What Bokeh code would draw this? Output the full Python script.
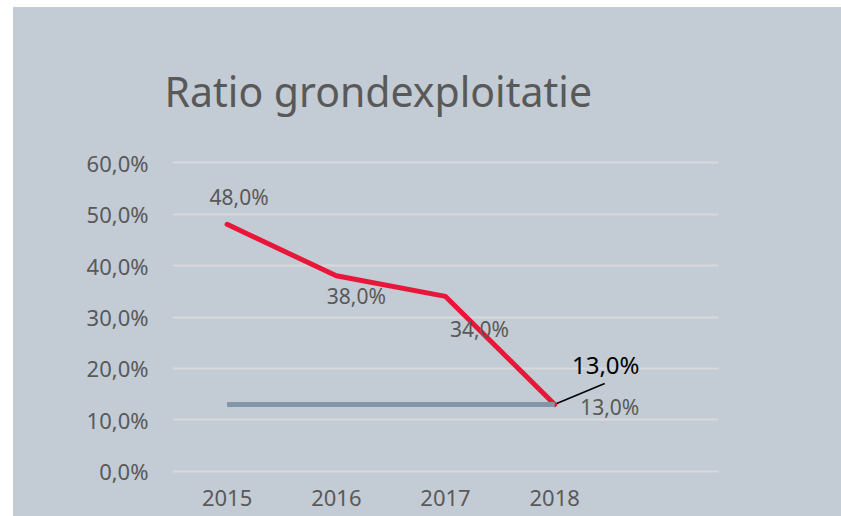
from bokeh.plotting import figure
from bokeh.models import ColumnDataSource, FixedTicker, Range1d, Spacer
from bokeh.layouts import row, column
from bokeh.embed import file_html
from bokeh.resources import INLINE
from bokeh.core.properties import value

# ---- data ----
years = [2015, 2016, 2017, 2018]
ratio = [48.0, 38.0, 34.0, 13.0]        # red series
norm = [13.0, 13.0, 13.0, 13.0]         # grey series
y_ticks = [0, 10, 20, 30, 40, 50, 60]
y_tick_labels = ["0,0%", "10,0%", "20,0%", "30,0%", "40,0%", "50,0%", "60,0%"]
x_tick_labels = ["2015", "2016", "2017", "2018"]
title_text = "Ratio grondexploitatie"


def fmt(v):
    return f"{v:.1f}".replace(".", ",") + "%"


BG = "#C3CBD5"
TXT = "#595959"
RED = "#E8173A"
GREY = "#8395A9"
FONT = "Noto Sans"

p = figure(width=828, height=509, output_backend="svg", toolbar_location=None,
           x_range=Range1d(2014.5, 2019.5), y_range=Range1d(-0.6, 60.6),
           min_border_left=159, min_border_right=123, min_border_top=152,
           min_border_bottom=42,
           background_fill_color=BG, border_fill_color=BG, outline_line_color=None,
           styles={"background-color": BG})
p.outline_line_color = None

# title
p.title.text = title_text
p.title.text_font = FONT
p.title.text_font_size = "41px"
p.title.text_font_style = "normal"
p.title.text_color = TXT
p.title.align = "left"
p.title.offset = -8
p.title.standoff = 82

p.xgrid.visible = False
p.ygrid.grid_line_color = "#D9D9D9"
p.ygrid.grid_line_width = 2
p.ygrid.ticker = FixedTicker(ticks=y_ticks)

p.yaxis.ticker = FixedTicker(ticks=y_ticks)
p.yaxis.major_label_overrides = dict(zip(y_ticks, y_tick_labels))
p.xaxis.ticker = FixedTicker(ticks=years)
p.xaxis.major_label_overrides = dict(zip(years, x_tick_labels))
for ax in (p.xaxis, p.yaxis):
    ax.axis_line_color = None
    ax.major_tick_line_color = None
    ax.minor_tick_line_color = None
    ax.major_tick_out = 0
    ax.major_tick_in = 0
    ax.major_label_text_font = FONT
    ax.major_label_text_font_size = "22px"
    ax.major_label_text_color = TXT
p.yaxis.major_label_standoff = 24
p.xaxis.major_label_standoff = 15

# lines
p.line(years, ratio, line_color=RED, line_width=5, line_join="round", line_cap="round")
p.line(years, norm, line_color=GREY, line_width=5)

# data labels of the red series (first three)
red_src = ColumnDataSource(dict(
    x=years[:3], y=ratio[:3], t=[fmt(v) for v in ratio[:3]],
    dx=[12, 20, 34], dy=[-27, 20, 33]))
p.text(x="x", y="y", text="t", x_offset="dx", y_offset="dy", source=red_src,
       text_font=value(FONT), text_font_size="21px", text_color=TXT,
       text_align="center", text_baseline="middle")

# last red label (emphasised, with leader line)
p.text(x=[years[3]], y=[ratio[3]], text=[fmt(ratio[3])], x_offset=51, y_offset=-40,
       text_font=value(FONT), text_font_size="24px", text_color="black",
       text_align="center", text_baseline="middle")
PX_X = 109.2   # px per year
PX_Y = 5.147   # px per percent
p.segment(x0=[years[3] + 2 / PX_X], y0=[ratio[3] + 1 / PX_Y],
          x1=[years[3] + 50 / PX_X], y1=[ratio[3] + 21 / PX_Y],
          line_color="black", line_width=1.5)

# grey series label (last point only)
p.text(x=[years[3]], y=[norm[3]], text=[fmt(norm[3])], x_offset=55, y_offset=2,
       text_font=value(FONT), text_font_size="21px", text_color=TXT,
       text_align="center", text_baseline="middle")

layout = row(Spacer(width=13, height=516), column(Spacer(width=828, height=7), p))
open("out.html", "w").write(file_html(layout, INLINE))
